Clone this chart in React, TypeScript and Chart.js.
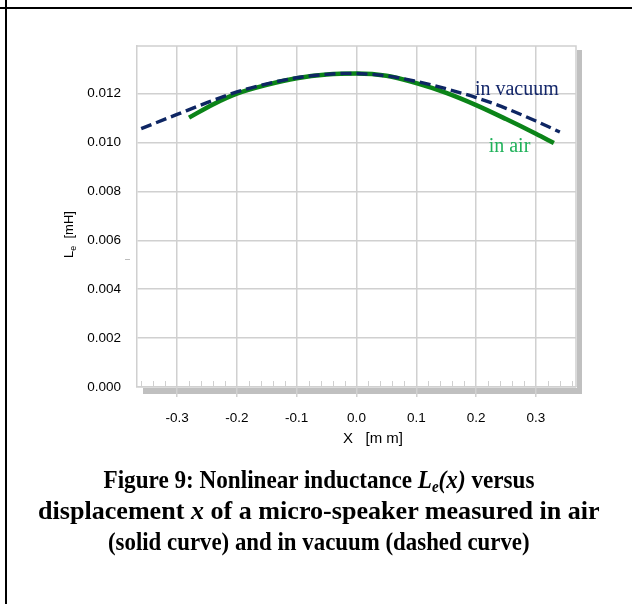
import React, { useEffect, useLayoutEffect, useRef } from 'react';
import { Chart, registerables } from 'chart.js';

Chart.register(...registerables);

// Inductance Le(x) of the micro-speaker, displacement in mm, inductance in mH
const airX = [-0.28, -0.24, -0.2, -0.15, -0.1, -0.05, 0.0, 0.05, 0.1, 0.15, 0.2, 0.25, 0.3, 0.33];
const airL = [0.01102, 0.01156, 0.012, 0.01236, 0.01263, 0.01278, 0.01282, 0.01273, 0.01243, 0.01203, 0.01153, 0.01096, 0.01036, 0.00998];

const vacuumX = [-0.36, -0.3, -0.25, -0.2, -0.15, -0.1, -0.05, -0.02, 0.05, 0.1, 0.15, 0.2, 0.25, 0.3, 0.34];
const vacuumL = [0.01057, 0.01115, 0.01163, 0.01207, 0.0124, 0.01265, 0.01279, 0.01283, 0.01273, 0.0125, 0.0122, 0.01184, 0.0114, 0.01088, 0.01043];

const xMin = -0.367;
const xMax = 0.367;
const yMax = 0.01395;
const xStep = 0.1;
const yStep = 0.002;
const minorStep = 0.02;

const gridColor = '#d0d0d0';
const shadowColor = '#c0c0c0';

const toPoints = (xs: number[], ys: number[]) => xs.map((x, i) => ({ x, y: ys[i] }));

const decorPlugin = {
  id: 'decor',
  beforeDraw(chart: any) {
    const { ctx, chartArea } = chart;
    const { left, right, top, bottom } = chartArea;
    ctx.save();
    ctx.fillStyle = shadowColor;
    // drop shadow under the x axis and along the right edge of the plot
    ctx.fillRect(left + 6, bottom + 1, right - left, 6);
    ctx.fillRect(right + 1, top + 4, 5, bottom - top + 3);
    ctx.restore();
  },
  afterDraw(chart: any) {
    const { ctx, chartArea, scales } = chart;
    const { left, right, top, bottom } = chartArea;
    const xs = scales.x;
    const ys = scales.y;
    ctx.save();

    // plot frame (top and right)
    ctx.strokeStyle = gridColor;
    ctx.lineWidth = 1.5;
    ctx.beginPath();
    ctx.moveTo(left, top);
    ctx.lineTo(right, top);
    ctx.lineTo(right, bottom);
    ctx.stroke();

    // minor ticks on the x axis, pointing into the plot
    ctx.lineWidth = 1;
    ctx.beginPath();
    for (let k = -18; k <= 18; k++) {
      const v = k * minorStep;
      if (v < xMin || v > xMax) continue;
      if (Math.abs(v / xStep - Math.round(v / xStep)) < 1e-6) continue;
      const px = Math.round(xs.getPixelForValue(v)) + 0.5;
      ctx.moveTo(px, bottom);
      ctx.lineTo(px, bottom - 6);
    }
    ctx.stroke();

    // small dash left of the y axis
    ctx.strokeStyle = '#bdbdbd';
    ctx.beginPath();
    ctx.moveTo(left - 12, Math.round(ys.getPixelForValue(0.00525)) + 0.5);
    ctx.lineTo(left - 7, Math.round(ys.getPixelForValue(0.00525)) + 0.5);
    ctx.stroke();

    // curve labels
    ctx.textBaseline = 'alphabetic';
    ctx.textAlign = 'left';
    ctx.font = '20px "Liberation Serif", "Times New Roman", serif';
    ctx.fillStyle = '#14276a';
    ctx.fillText('in vacuum', xs.getPixelForValue(0.198), ys.getPixelForValue(0.01194));
    ctx.fillStyle = '#1fb25a';
    ctx.fillText('in air', xs.getPixelForValue(0.221), ys.getPixelForValue(0.00961));

    // y axis title: Le [mH]
    ctx.fillStyle = '#000';
    ctx.translate(73, 258);
    ctx.rotate(-Math.PI / 2);
    ctx.font = '13px "Liberation Sans", Arial, sans-serif';
    ctx.fillText('L', 0, 0);
    let w = ctx.measureText('L').width;
    ctx.font = '9px "Liberation Sans", Arial, sans-serif';
    ctx.fillText('e', w, 3);
    w += ctx.measureText('e').width;
    ctx.font = '13px "Liberation Sans", Arial, sans-serif';
    ctx.fillText('  [mH]', w, 0);
    ctx.setTransform(1, 0, 0, 1, 0, 0);

    // x axis title
    ctx.font = '15px "Liberation Sans", Arial, sans-serif';
    ctx.textBaseline = 'middle';
    ctx.fillText('X   [m m]', 343, 439);
    ctx.restore();
  },
};

function InductanceChart() {
  const canvasRef = useRef<HTMLCanvasElement | null>(null);

  useEffect(() => {
    if (!canvasRef.current) return;
    const tickFont = { family: '"Liberation Sans", Arial, sans-serif', size: 13.5 };
    const chart = new Chart(canvasRef.current, {
      type: 'scatter',
      data: {
        datasets: [
          {
            label: 'in vacuum',
            data: toPoints(vacuumX, vacuumL),
            showLine: true,
            borderColor: '#0e2663',
            borderWidth: 3.4,
            borderDash: [11, 5],
            pointRadius: 0,
            cubicInterpolationMode: 'monotone',
            fill: false,
          },
          {
            label: 'in air',
            data: toPoints(airX, airL),
            showLine: true,
            borderColor: '#0b8418',
            borderWidth: 4.5,
            pointRadius: 0,
            cubicInterpolationMode: 'monotone',
            fill: false,
          },
        ],
      },
      options: {
        responsive: false,
        animation: false,
        events: [],
        layout: { padding: { left: 0, top: 46, right: 56, bottom: 157 } },
        plugins: {
          legend: { display: false },
          tooltip: { enabled: false },
          title: { display: false },
        },
        scales: {
          x: {
            type: 'linear',
            min: xMin,
            max: xMax,
            afterFit: (axis: any) => {
              axis.height = 60;
            },
            border: { display: true, color: gridColor, width: 1.5 },
            grid: {
              color: gridColor,
              lineWidth: 1.5,
              drawTicks: true,
              tickLength: 10,
              tickColor: gridColor,
            },
            ticks: {
              stepSize: xStep,
              includeBounds: false,
              padding: 13,
              color: '#000',
              font: tickFont,
              maxRotation: 0,
              callback: (v: any) => (Math.abs(Number(v)) < 1e-9 ? 0 : Number(v)).toFixed(1),
            },
          },
          y: {
            type: 'linear',
            min: 0,
            max: yMax,
            afterFit: (axis: any) => {
              axis.width = 137;
            },
            border: { display: true, color: gridColor, width: 1.5 },
            grid: {
              color: gridColor,
              lineWidth: 1.5,
              drawTicks: false,
            },
            ticks: {
              stepSize: yStep,
              includeBounds: false,
              padding: 16,
              color: '#000',
              font: tickFont,
              callback: (v: any) => Number(v).toFixed(3),
            },
          },
        },
      },
      plugins: [decorPlugin],
    });
    return () => chart.destroy();
  }, []);

  return (
    <canvas
      ref={canvasRef}
      width={632}
      height={604}
      style={{ position: 'absolute', left: 0, top: 0, width: 632, height: 604 }}
    />
  );
}

// One caption line, squeezed horizontally to the given width and centred on cx
function CaptionLine({ cx, width, top, children }: { cx: number; width: number; top: number; children: React.ReactNode }) {
  const spanRef = useRef<HTMLSpanElement | null>(null);
  useLayoutEffect(() => {
    const el = spanRef.current;
    if (!el) return;
    const natural = el.offsetWidth;
    if (natural > 0) {
      el.style.transform = `scaleX(${width / natural})`;
      el.style.left = `${cx - natural / 2}px`;
    }
  }, [cx, width]);
  return (
    <span
      ref={spanRef}
      style={{
        position: 'absolute',
        top,
        left: cx - width / 2,
        display: 'inline-block',
        whiteSpace: 'nowrap',
        transformOrigin: 'center',
        lineHeight: '31px',
      }}
    >
      {children}
    </span>
  );
}

export default function App() {
  const serif = '"Liberation Serif", "Times New Roman", serif';
  return (
    <div style={{ position: 'absolute', left: 0, top: 0, width: 632, height: 604, background: '#fff', overflow: 'hidden' }}>
      <div style={{ position: 'absolute', left: 0, top: 7, width: 632, height: 2, background: '#000' }} />
      <div style={{ position: 'absolute', left: 5, top: 0, width: 2, height: 604, background: '#000' }} />
      <InductanceChart />
      <div
        style={{
          position: 'absolute',
          left: 0,
          top: 0,
          width: 632,
          height: 604,
          fontFamily: serif,
          fontWeight: 'bold',
          fontSize: 26,
          color: '#000',
        }}
      >
        <CaptionLine cx={318.5} width={431} top={464}>
          Figure 9: Nonlinear inductance{' '}
          <i>
            L<span style={{ fontSize: '0.65em', verticalAlign: '-0.25em', lineHeight: 0 }}>e</span>(x)
          </i>{' '}
          versus
        </CaptionLine>
        <CaptionLine cx={319} width={562} top={495}>
          displacement <i>x</i> of a micro-speaker measured in air
        </CaptionLine>
        <CaptionLine cx={319} width={422} top={526}>
          (solid curve) and in vacuum (dashed curve)
        </CaptionLine>
      </div>
    </div>
  );
}
